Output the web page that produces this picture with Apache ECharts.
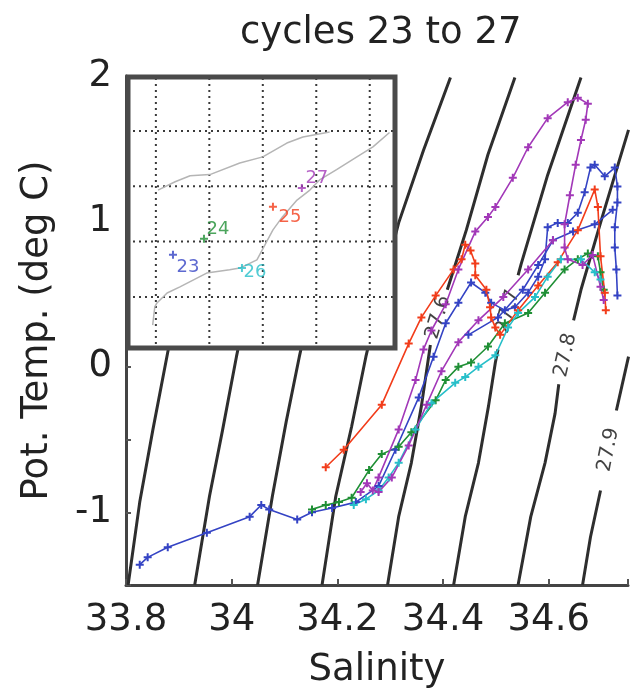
<!DOCTYPE html>
<html><head><meta charset="utf-8">
<script src="https://cdn.jsdelivr.net/npm/echarts@6/dist/echarts.min.js"></script>
<style>html,body{margin:0;padding:0;background:#fff}#c{width:631px;height:696px}</style>
</head><body><div id="c"></div>
<script>
// ---------- data ----------
const titleText = 'cycles 23 to 27';
const xName = 'Salinity';
const yName = 'Pot. Temp. (deg C)';
const cycleNames = ['23', '24', '25', '26', '27'];
const cycleColors = ['#3443c4', '#1f8f35', '#f23c1a', '#27bfc9', '#a238b8'];

// isopycnals (sigma-theta), [salinity, pot. temp]; null = gap for label
const contour272 = [[33.804,-1.50],[33.826,-0.93],[33.851,-0.43],[33.879,0.10],[33.939,1.15],[34.005,2.00]];
const contour273 = [[33.930,-1.50],[33.958,-0.89],[33.983,-0.43],[34.009,0.07],[34.071,1.15],[34.137,2.00]];
const contour274 = [[34.049,-1.50],[34.077,-0.89],[34.103,-0.38],[34.128,0.07],[34.194,1.15],[34.263,2.00]];
const contour275 = [[34.171,-1.50],[34.197,-0.89],[34.227,-0.41],[34.254,0.07],[34.288,0.60],[34.316,0.99],[34.363,1.49],[34.414,1.99]];
const contour276 = [[34.295,-1.50],[34.316,-1.03],[34.340,-0.66],[34.359,-0.27],[34.376,0.15],null,[34.408,0.53],[34.444,0.94],[34.485,1.46],[34.536,1.99]];
const contour277 = [[34.420,-1.50],[34.442,-1.03],[34.467,-0.66],[34.486,-0.27],[34.499,0.03],[34.504,0.12],null,[34.542,0.63],[34.548,0.71],[34.598,1.32],[34.661,1.99]];
const contour278 = [[34.542,-1.50],[34.566,-1.03],[34.593,-0.66],[34.612,-0.32],[34.619,-0.12],null,[34.647,0.32],[34.661,0.53],[34.702,1.04],[34.751,1.63]];
const contour279 = [[34.664,-1.50],[34.679,-1.17],[34.698,-0.85],null,[34.728,-0.30],[34.751,0.07]];
const contourLabelText = ['27.6', '27.7', '27.8', '27.9'];
const contourLabelPos = [[34.391,0.34],[34.523,0.38],[34.632,0.08],[34.713,-0.57]];

// profiles
const cycle23a = [[33.826,-1.36],[33.841,-1.31],[33.879,-1.24],[33.953,-1.14],[34.034,-1.03],[34.056,-0.95],[34.071,-0.98],[34.124,-1.05],[34.152,-1.00],[34.190,-0.97],[34.235,-0.93],[34.278,-0.82],[34.310,-0.57],[34.354,-0.21],[34.382,0.07],[34.405,0.30],[34.429,0.44],[34.453,0.58],[34.480,0.51],[34.491,0.44],[34.517,0.39],[34.536,0.41],[34.561,0.51],[34.580,0.62],[34.593,0.74],[34.598,0.96],[34.617,0.99],[34.636,0.99],[34.655,1.06],[34.668,1.20],[34.679,1.37],[34.687,1.39],[34.706,1.31],[34.725,1.37],[34.730,1.24],[34.730,1.13],[34.725,0.96],[34.725,0.82],[34.728,0.67],[34.730,0.49]];
const cycle23b = [[34.448,0.22],[34.504,0.34],[34.551,0.53],[34.580,0.70],[34.608,0.87],[34.646,0.93],[34.687,0.98],[34.721,1.08]];
const cycle24 = [[34.152,-0.98],[34.178,-0.95],[34.203,-0.93],[34.227,-0.90],[34.260,-0.71],[34.284,-0.60],[34.316,-0.55],[34.340,-0.45],[34.386,-0.23],[34.405,-0.09],[34.429,0.00],[34.453,0.03],[34.485,0.14],[34.517,0.30],[34.561,0.37],[34.593,0.51],[34.630,0.67],[34.655,0.74],[34.674,0.78],[34.693,0.76],[34.698,0.65],[34.704,0.53]];
const cycle25 = [[34.178,-0.69],[34.212,-0.57],[34.284,-0.26],[34.335,0.16],[34.359,0.34],[34.386,0.49],[34.420,0.67],[34.435,0.74],[34.442,0.84],[34.452,0.80],[34.461,0.71],[34.461,0.63],[34.482,0.53],[34.489,0.41],[34.491,0.34],[34.499,0.27],[34.508,0.22],[34.542,0.39],[34.580,0.56],[34.617,0.72],[34.655,0.94],[34.687,1.22],[34.693,1.10],[34.698,0.76],[34.706,0.51],[34.708,0.39]];
const cycle26 = [[34.231,-0.95],[34.254,-0.91],[34.278,-0.85],[34.297,-0.76],[34.316,-0.66],[34.348,-0.43],[34.378,-0.25],[34.423,-0.11],[34.442,-0.07],[34.467,0.00],[34.499,0.08],[34.523,0.27],[34.542,0.37],[34.574,0.48],[34.598,0.62],[34.623,0.74],[34.661,0.74],[34.687,0.65],[34.698,0.60]];
const cycle27a = [[34.244,-0.86],[34.256,-0.80],[34.267,-0.85],[34.278,-0.76],[34.316,-0.43],[34.348,-0.09],[34.363,0.12],[34.378,0.25],[34.405,0.43],[34.429,0.67],[34.461,0.93],[34.485,1.03],[34.499,1.10],[34.532,1.30],[34.561,1.51],[34.598,1.71],[34.636,1.82],[34.655,1.85],[34.674,1.81],[34.670,1.70],[34.661,1.56],[34.651,1.39],[34.640,1.18],[34.630,0.98],[34.630,0.82],[34.636,0.74],[34.664,0.70],[34.683,0.77],[34.698,0.55],[34.704,0.46]];
const cycle27b = [[34.278,-0.86],[34.303,-0.76],[34.335,-0.54],[34.369,-0.26],[34.397,-0.03],[34.429,0.17],[34.467,0.32],[34.514,0.48],[34.561,0.67],[34.608,0.87]];

// inset map (graticule units)
const insetLonRange = [-0.54, 4.51];
const insetLatRange = [-0.96, 4.01];
const insetLon = [0, 1, 2, 3, 4];
const insetLat = [0, 1, 2, 3];
const insetTrackA = [[0.04,1.93],[0.36,2.08],[0.64,2.19],[1.01,2.21],[1.57,2.42],[2.00,2.53],[2.45,2.78],[2.75,2.89],[3.25,2.98]];
const insetTrackB = [[-0.06,-0.51],[-0.02,-0.18],[0.02,-0.11],[0.21,0.07],[0.45,0.18],[0.95,0.43],[1.38,0.49],[1.57,0.52],[1.89,0.67],[2.19,1.21],[2.37,1.45],[2.64,1.75],[2.88,1.93],[3.07,2.12],[3.38,2.30],[3.76,2.53],[4.06,2.71],[4.37,2.97]];
const insetStations = [[0.32,0.76],[0.90,1.05],[2.19,1.63],[1.61,0.52],[2.73,1.97]];

// ---------- chart ----------
const FONT = 'DejaVu Sans';
const plusSymbol = 'path://M3,0H5V3H8V5H5V8H3V5H0V3H3Z';
const stationLabelOffset = [[15,12],[14,-9],[17,11],[13,4],[15,-10]];
const contourAngles = [73, 75, 77, 79];

function segments(arr) {
  const segs = [[]];
  arr.forEach(p => { if (p === null) segs.push([]); else segs[segs.length - 1].push(p); });
  return segs.filter(s => s.length > 1);
}

const series = [];
[contour272, contour273, contour274, contour275, contour276, contour277, contour278, contour279].forEach(c => {
  segments(c).forEach(seg => series.push({
    type: 'line', xAxisIndex: 0, yAxisIndex: 0, data: seg, symbol: 'none', silent: true, z: 1,
    lineStyle: { color: '#2e2e2e', width: 3 }
  }));
});
series.push({
  type: 'scatter', xAxisIndex: 0, yAxisIndex: 0, symbolSize: 0, z: 2, silent: true,
  data: contourLabelPos.map((p, i) => ({
    value: p,
    label: { show: true, position: 'inside', formatter: contourLabelText[i], rotate: contourAngles[i],
      fontFamily: FONT, fontSize: 20, color: '#111' }
  }))
});
const profiles = [[cycle23a, 0], [cycle23b, 0], [cycle24, 1], [cycle25, 2], [cycle26, 3], [cycle27a, 4], [cycle27b, 4]];
profiles.forEach(([d, ci]) => series.push({
  type: 'line', name: cycleNames[ci], xAxisIndex: 0, yAxisIndex: 0, data: d, z: 3,
  symbol: plusSymbol, symbolSize: 8, showSymbol: true,
  lineStyle: { color: cycleColors[ci], width: 1.6 }, itemStyle: { color: cycleColors[ci] }
}));
// inset graticule (dotted)
const gratStyle = { color: '#3a3a3a', width: 2, type: [2, 4] };
insetLon.forEach(v => series.push({
  type: 'line', xAxisIndex: 1, yAxisIndex: 1, symbol: 'none', silent: true, z: 11,
  data: [[v, insetLatRange[0]], [v, insetLatRange[1]]], lineStyle: gratStyle
}));
insetLat.forEach(v => series.push({
  type: 'line', xAxisIndex: 1, yAxisIndex: 1, symbol: 'none', silent: true, z: 11,
  data: [[insetLonRange[0], v], [insetLonRange[1], v]], lineStyle: gratStyle
}));
[insetTrackA, insetTrackB].forEach(t => series.push({
  type: 'line', xAxisIndex: 1, yAxisIndex: 1, data: t, symbol: 'none', z: 12, silent: true,
  lineStyle: { color: '#b5b5b5', width: 1.5 }
}));
series.push({
  type: 'scatter', xAxisIndex: 1, yAxisIndex: 1, z: 13, symbol: plusSymbol, symbolSize: 8,
  data: insetStations.map((p, i) => ({
    value: p, itemStyle: { color: cycleColors[i] },
    label: { show: true, position: 'inside', offset: stationLabelOffset[i], formatter: cycleNames[i],
      color: cycleColors[i], fontFamily: FONT, fontSize: 18 }
  }))
});

const option = {
  animation: false,
  backgroundColor: '#fff',
  title: { text: titleText, left: 235, top: 10,
    textStyle: { fontFamily: FONT, fontSize: 37, fontWeight: 'normal', color: '#222' } },
  grid: [
    { left: 126, right: 0, top: 76, bottom: 111 },
    { left: 127, top: 75, width: 270, height: 275 }
  ],
  xAxis: [
    { type: 'value', gridIndex: 0, min: 33.8, max: 34.75, interval: 0.2,
      name: xName, nameLocation: 'middle', nameGap: 67,
      nameTextStyle: { fontFamily: FONT, fontSize: 37, color: '#222' },
      axisLine: { onZero: false, lineStyle: { color: '#444', width: 3 } },
      axisTick: { inside: true, length: 6, lineStyle: { color: '#555', width: 2 } },
      splitLine: { show: false },
      axisLabel: { margin: 17, fontFamily: FONT, fontSize: 37, color: '#222',
        formatter: v => Math.abs(v * 5 - Math.round(v * 5)) < 1e-6 ? String(+v.toFixed(1)) : '' } },
    { type: 'value', gridIndex: 1, min: insetLonRange[0], max: insetLonRange[1], show: false }
  ],
  yAxis: [
    { type: 'value', gridIndex: 0, min: -1.5, max: 2, interval: 0.5,
      name: yName, nameLocation: 'middle', nameGap: 70, nameRotate: 90,
      nameTextStyle: { fontFamily: FONT, fontSize: 37, color: '#222' },
      axisLine: { show: true, onZero: false, lineStyle: { color: '#444', width: 3 } },
      axisTick: { show: true, inside: true, length: 5, lineStyle: { color: '#555', width: 2 } },
      splitLine: { show: false },
      axisLabel: { margin: 14, fontFamily: FONT, fontSize: 37, color: '#222',
        formatter: v => Math.abs(v - Math.round(v)) < 1e-6 ? String(Math.round(v)) : '' } },
    { type: 'value', gridIndex: 1, min: insetLatRange[0], max: insetLatRange[1], show: false }
  ],
  graphic: [
    { type: 'rect', z: 10, silent: true, shape: { x: 127, y: 75, width: 270, height: 275 }, style: { fill: '#fff' } },
    { type: 'rect', z: 20, silent: true, shape: { x: 128, y: 77, width: 267, height: 271 },
      style: { fill: 'none', stroke: '#4a4a4a', lineWidth: 5 } }
  ],
  series: series
};
const chart = echarts.init(document.getElementById('c'));
chart.setOption(option);
</script>
</body></html>
